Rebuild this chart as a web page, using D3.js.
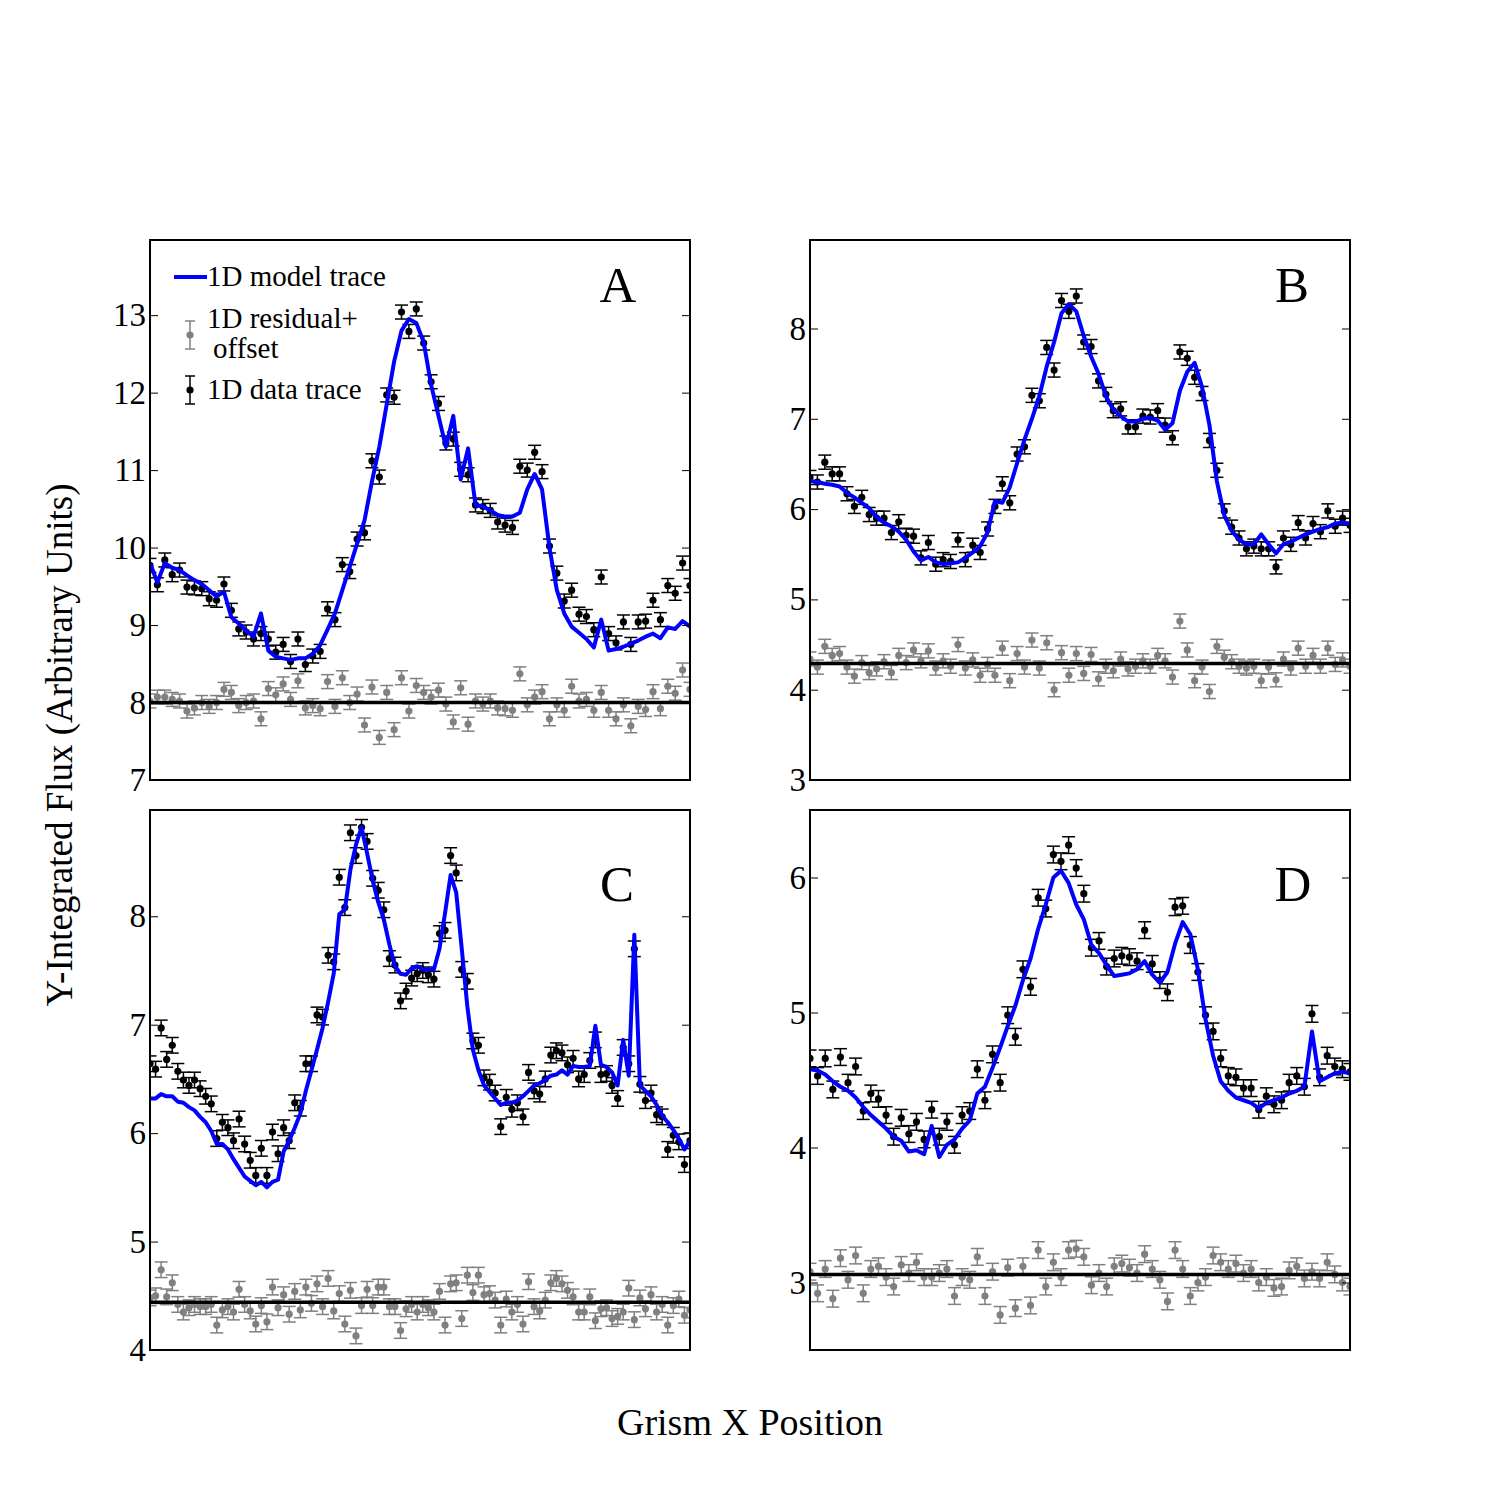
<!DOCTYPE html>
<html>
<head>
<meta charset="utf-8">
<script src="https://cdn.jsdelivr.net/npm/d3@7"></script>
<style>
  body { margin: 0; background: #fff; }
  svg text { font-family: "Liberation Serif", "DejaVu Serif", serif; fill: #000; }
</style>
</head>
<body>
<svg id="chart" width="1500" height="1500"></svg>
<script>
// ---------------------------------------------------------------------------
// Data (x = sample index along the grism row)
// ---------------------------------------------------------------------------
const panelLetters = ['A', 'B', 'C', 'D'];

const dataA = [9.77, 9.52, 9.84, 9.65, 9.71, 9.49, 9.48, 9.47, 9.34, 9.32,
  9.53, 9.19, 8.95, 8.91, 8.82, 8.89, 8.82, 8.65, 8.75, 8.53,
  8.82, 8.49, 8.60, 8.66, 9.21, 9.07, 9.78, 9.69, 10.11, 10.19,
  11.12, 10.91, 11.97, 11.94, 13.04, 12.79, 13.08, 12.64, 12.14, 11.86,
  11.35, 11.40, 11.01, 10.94, 10.55, 10.53, 10.48, 10.33, 10.29, 10.26,
  11.05, 11.00, 11.23, 10.98, 10.02, 9.67, 9.31, 9.45, 9.14, 9.11,
  8.94, 9.62, 8.89, 8.77, 9.04, 8.75, 9.04, 9.05, 9.32, 9.07,
  9.51, 9.41, 9.80, 9.51];
const modelA = [9.80, 9.55, 9.80, 9.74, 9.71, 9.64, 9.58, 9.53, 9.45, 9.37,
  9.43, 9.10, 9.02, 8.93, 8.85, 9.15, 8.67, 8.59, 8.57, 8.55,
  8.57, 8.57, 8.63, 8.74, 8.94, 9.15, 9.45, 9.75, 10.05, 10.35,
  10.85, 11.30, 11.85, 12.40, 12.80, 12.95, 12.90, 12.65, 12.10, 11.70,
  11.30, 11.70, 10.88, 11.28, 10.55, 10.53, 10.48, 10.42, 10.40, 10.40,
  10.45, 10.75, 10.95, 10.75, 10.00, 9.45, 9.15, 8.98, 8.90, 8.82,
  8.71, 9.07, 8.67, 8.69, 8.72, 8.76, 8.80, 8.85, 8.89, 8.83,
  8.97, 8.95, 9.05, 8.98];
const residA = [8.02, 8.07, 8.07, 8.04, 8.02, 7.89, 7.93, 8.00, 7.95, 8.00,
  8.17, 8.13, 7.96, 8.00, 8.02, 7.79, 8.18, 8.10, 8.24, 8.04,
  8.28, 7.93, 7.96, 7.92, 8.27, 7.95, 8.32, 8.00, 8.11, 7.71,
  8.20, 7.55, 8.13, 7.65, 8.32, 7.89, 8.22, 8.13, 8.07, 8.16,
  7.98, 7.75, 8.19, 7.72, 8.02, 7.98, 8.02, 7.93, 7.92, 7.90,
  8.37, 7.97, 8.07, 8.14, 7.79, 7.97, 7.90, 8.21, 8.02, 8.04,
  7.90, 8.13, 7.90, 7.79, 7.97, 7.70, 7.95, 7.91, 8.14, 7.92,
  8.21, 8.12, 8.42, 8.17];

const dataB = [6.35, 6.30, 6.52, 6.39, 6.39, 6.17, 6.03, 6.13, 5.94, 5.90,
  5.90, 5.74, 5.86, 5.71, 5.70, 5.46, 5.63, 5.39, 5.44, 5.42,
  5.66, 5.44, 5.60, 5.52, 5.78, 6.03, 6.28, 6.07, 6.61, 6.69,
  7.26, 7.20, 7.79, 7.54, 8.31, 8.19, 8.36, 7.85, 7.80, 7.42,
  7.27, 7.09, 7.11, 6.91, 6.91, 7.03, 7.02, 7.09, 6.93, 6.79,
  7.74, 7.67, 7.46, 7.28, 6.76, 6.43, 5.98, 5.80, 5.68, 5.56,
  5.59, 5.56, 5.56, 5.36, 5.68, 5.61, 5.85, 5.68, 5.84, 5.75,
  5.98, 5.81, 5.90, 5.82];
const modelB = [6.31, 6.30, 6.28, 6.27, 6.25, 6.18, 6.13, 6.07, 6.01, 5.91,
  5.85, 5.81, 5.75, 5.66, 5.53, 5.43, 5.47, 5.41, 5.39, 5.40,
  5.41, 5.46, 5.52, 5.59, 5.74, 6.09, 6.07, 6.24, 6.51, 6.77,
  7.00, 7.25, 7.58, 7.85, 8.17, 8.27, 8.19, 7.92, 7.69, 7.50,
  7.25, 7.10, 7.03, 6.97, 6.97, 7.00, 7.01, 6.98, 6.88, 6.95,
  7.31, 7.52, 7.62, 7.35, 6.93, 6.31, 5.93, 5.76, 5.66, 5.61,
  5.61, 5.72, 5.61, 5.51, 5.61, 5.64, 5.68, 5.72, 5.75, 5.78,
  5.80, 5.84, 5.85, 5.84];
const residB = [4.34, 4.25, 4.48, 4.38, 4.40, 4.25, 4.15, 4.30, 4.19, 4.23,
  4.31, 4.19, 4.38, 4.30, 4.44, 4.32, 4.43, 4.24, 4.32, 4.26,
  4.50, 4.24, 4.33, 4.16, 4.28, 4.16, 4.46, 4.10, 4.40, 4.25,
  4.55, 4.24, 4.52, 4.00, 4.41, 4.16, 4.40, 4.18, 4.39, 4.12,
  4.26, 4.21, 4.34, 4.23, 4.26, 4.32, 4.26, 4.38, 4.32, 4.14,
  4.76, 4.44, 4.10, 4.25, 3.98, 4.48, 4.36, 4.31, 4.26, 4.24,
  4.26, 4.10, 4.25, 4.11, 4.34, 4.24, 4.46, 4.26, 4.38, 4.26,
  4.46, 4.28, 4.33, 4.26];

const dataC = [6.64, 6.59, 6.97, 6.68, 6.81, 6.57, 6.49, 6.44, 6.49, 6.41,
  6.34, 6.27, 5.95, 6.10, 6.05, 5.93, 6.13, 5.90, 5.75, 5.61,
  5.86, 5.61, 6.01, 5.81, 6.05, 5.93, 6.28, 6.23, 6.64, 6.64,
  7.09, 7.07, 7.64, 7.58, 8.36, 8.08, 8.77, 8.56, 8.82, 8.69,
  8.35, 8.24, 8.06, 7.61, 7.55, 7.22, 7.31, 7.43, 7.47, 7.50,
  7.46, 7.42, 7.84, 7.87, 8.56, 8.40, 7.51, 7.40, 6.85, 6.81,
  6.51, 6.47, 6.37, 6.06, 6.33, 6.22, 6.28, 6.15, 6.56, 6.39,
  6.36, 6.50, 6.72, 6.76, 6.74, 6.63, 6.69, 6.50, 6.54, 6.67,
  6.86, 6.54, 6.55, 6.44, 6.32, 6.79, 6.64, 7.70, 6.45, 6.30,
  6.37, 6.17, 6.15, 5.85, 5.98, 5.92, 5.71, 5.93];
const modelC = [6.32, 6.32, 6.36, 6.34, 6.34, 6.29, 6.28, 6.24, 6.21, 6.15,
  6.10, 6.02, 5.90, 5.90, 5.85, 5.76, 5.68, 5.60, 5.56, 5.52,
  5.55, 5.50, 5.55, 5.57, 5.83, 5.93, 6.05, 6.18, 6.39, 6.58,
  6.77, 6.97, 7.21, 7.47, 8.02, 8.06, 8.43, 8.66, 8.82, 8.58,
  8.33, 8.13, 7.97, 7.74, 7.54, 7.47, 7.46, 7.52, 7.54, 7.51,
  7.51, 7.51, 7.70, 8.03, 8.38, 8.22, 7.70, 7.17, 6.77, 6.58,
  6.44, 6.38, 6.32, 6.26, 6.28, 6.28, 6.30, 6.34, 6.39, 6.44,
  6.46, 6.49, 6.53, 6.54, 6.58, 6.54, 6.62, 6.61, 6.61, 6.62,
  6.99, 6.63, 6.61, 6.56, 6.44, 6.86, 6.53, 7.83, 6.44, 6.39,
  6.34, 6.26, 6.16, 6.10, 6.03, 5.95, 5.85, 5.93];
const residC = [4.48, 4.50, 4.74, 4.49, 4.62, 4.42, 4.35, 4.39, 4.42, 4.40,
  4.40, 4.42, 4.23, 4.37, 4.40, 4.35, 4.56, 4.42, 4.36, 4.24,
  4.41, 4.26, 4.58, 4.39, 4.51, 4.33, 4.54, 4.37, 4.58, 4.43,
  4.61, 4.40, 4.66, 4.36, 4.52, 4.24, 4.55, 4.13, 4.41, 4.56,
  4.41, 4.58, 4.58, 4.40, 4.40, 4.18, 4.38, 4.42, 4.35, 4.42,
  4.39, 4.35, 4.54, 4.23, 4.61, 4.62, 4.29, 4.69, 4.53, 4.69,
  4.51, 4.52, 4.46, 4.23, 4.47, 4.35, 4.42, 4.24, 4.63, 4.40,
  4.36, 4.46, 4.62, 4.66, 4.61, 4.55, 4.49, 4.35, 4.35, 4.49,
  4.27, 4.38, 4.39, 4.29, 4.31, 4.35, 4.57, 4.28, 4.48, 4.38,
  4.51, 4.35, 4.42, 4.23, 4.41, 4.47, 4.32, 4.37];

const dataD = [4.66, 4.53, 4.66, 4.43, 4.67, 4.48, 4.60, 4.27, 4.40, 4.36,
  4.24, 4.08, 4.22, 4.10, 4.19, 4.06, 4.28, 4.08, 4.19, 4.02,
  4.24, 4.27, 4.58, 4.35, 4.69, 4.48, 4.98, 4.82, 5.32, 5.19,
  5.85, 5.77, 6.17, 6.12, 6.24, 6.07, 5.88, 5.48, 5.53, 5.34,
  5.40, 5.42, 5.41, 5.38, 5.61, 5.36, 5.24, 5.15, 5.78, 5.79,
  5.50, 5.30, 4.98, 4.86, 4.66, 4.53, 4.52, 4.44, 4.44, 4.28,
  4.38, 4.32, 4.35, 4.48, 4.53, 4.45, 4.99, 4.52, 4.68, 4.60,
  4.58, 4.56];
const modelD = [4.58, 4.57, 4.54, 4.49, 4.45, 4.42, 4.37, 4.30, 4.24, 4.19,
  4.14, 4.08, 4.05, 3.97, 3.98, 3.95, 4.16, 3.93, 4.02, 4.06,
  4.14, 4.20, 4.40, 4.45, 4.59, 4.74, 4.90, 5.05, 5.24, 5.40,
  5.62, 5.80, 6.00, 6.05, 5.96, 5.80, 5.69, 5.50, 5.44, 5.35,
  5.27, 5.28, 5.29, 5.32, 5.38, 5.28, 5.22, 5.30, 5.51, 5.67,
  5.58, 5.32, 4.95, 4.68, 4.49, 4.42, 4.37, 4.35, 4.33, 4.29,
  4.33, 4.35, 4.37, 4.40, 4.42, 4.45, 4.86, 4.49, 4.52, 4.55,
  4.56, 4.55];
const residD = [3.08, 2.92, 3.10, 2.88, 3.18, 3.02, 3.20, 2.92, 3.10, 3.12,
  3.04, 2.97, 3.13, 3.07, 3.15, 3.04, 3.04, 3.07, 3.10, 2.90,
  3.04, 3.02, 3.19, 2.90, 3.08, 2.76, 3.11, 2.81, 3.12, 2.83,
  3.24, 2.97, 3.15, 3.04, 3.24, 3.25, 3.19, 2.98, 3.07, 2.97,
  3.12, 3.14, 3.11, 3.07, 3.21, 3.10, 3.02, 2.86, 3.24, 3.10,
  2.90, 3.00, 3.04, 3.20, 3.15, 3.10, 3.14, 3.07, 3.10, 3.00,
  3.04, 2.96, 2.97, 3.09, 3.12, 3.03, 3.08, 3.03, 3.15, 3.06,
  3.00, 2.97];

// residual offsets (the black zero line of each panel) and 1-sigma errors
const residOffsets = [8.0, 4.29, 4.44, 3.06];
const dataErrors   = [0.09, 0.078, 0.072, 0.062];

// y-axis tick labels per panel
const ticksA = [7, 8, 9, 10, 11, 12, 13];
const ticksB = [3, 4, 5, 6, 7, 8];
const ticksC = [4, 5, 6, 7, 8];
const ticksD = [3, 4, 5, 6];

// ---------------------------------------------------------------------------
// Layout
// ---------------------------------------------------------------------------
const PW = 540, PH = 540;
const BLUE = '#0000ff', GREY = '#808080';

const panels = [
  { letter: panelLetters[0], x0: 150, y0: 240, data: dataA, model: modelA, resid: residA, ticks: ticksA, ydom: [7, 13.97], lx: 468, ly: 62 },
  { letter: panelLetters[1], x0: 810, y0: 240, data: dataB, model: modelB, resid: residB, ticks: ticksB, ydom: [3, 8.98],  lx: 482, ly: 62 },
  { letter: panelLetters[2], x0: 150, y0: 810, data: dataC, model: modelC, resid: residC, ticks: ticksC, ydom: [4, 8.98],  lx: 467, ly: 91 },
  { letter: panelLetters[3], x0: 810, y0: 810, data: dataD, model: modelD, resid: residD, ticks: ticksD, ydom: [2.5, 6.5], lx: 483, ly: 91 },
];
panels.forEach((p, i) => { p.offset = residOffsets[i]; p.err = dataErrors[i]; });

const svg = d3.select('#chart');
svg.append('rect').attr('width', 1500).attr('height', 1500).attr('fill', '#fff');

// errorbar marker: vertical bar + two caps + dot
function errorbars(g, pts, x, y, err, color) {
  const cap = 6.5;
  const eb = g.append('g').selectAll('g').data(pts).join('g');
  eb.append('line')
    .attr('x1', d => x(d.i)).attr('x2', d => x(d.i))
    .attr('y1', d => y(d.v - err)).attr('y2', d => y(d.v + err))
    .attr('stroke', color).attr('stroke-width', 1.5);
  [-1, 1].forEach(s => {
    eb.append('line')
      .attr('x1', d => x(d.i) - cap).attr('x2', d => x(d.i) + cap)
      .attr('y1', d => y(d.v + s * err)).attr('y2', d => y(d.v + s * err))
      .attr('stroke', color).attr('stroke-width', 1.5);
  });
  eb.append('circle')
    .attr('cx', d => x(d.i)).attr('cy', d => y(d.v))
    .attr('r', 3.6).attr('fill', color);
}

function drawPanel(p, idx) {
  const g = svg.append('g').attr('transform', `translate(${p.x0},${p.y0})`);
  const n = p.data.length;

  const x = d3.scaleLinear().domain([0, n - 1]).range([0, PW]);
  const y = d3.scaleLinear().domain(p.ydom).range([PH, 0]);

  const clipId = `clip-${idx}`;
  g.append('clipPath').attr('id', clipId)
    .append('rect').attr('width', PW).attr('height', PH);

  const plot = g.append('g').attr('clip-path', `url(#${clipId})`);

  const toPts = arr => arr.map((v, i) => ({ i, v }));

  // residuals + offset (grey), then the zero line
  errorbars(plot, toPts(p.resid), x, y, p.err, GREY);
  plot.append('line')
    .attr('x1', 0).attr('x2', PW)
    .attr('y1', y(p.offset)).attr('y2', y(p.offset))
    .attr('stroke', '#000').attr('stroke-width', 3.5);

  // data trace
  errorbars(plot, toPts(p.data), x, y, p.err, '#000');

  // model trace
  const line = d3.line().x(d => x(d.i)).y(d => y(d.v));
  plot.append('path')
    .datum(toPts(p.model))
    .attr('d', line)
    .attr('fill', 'none')
    .attr('stroke', BLUE)
    .attr('stroke-width', 4)
    .attr('stroke-linejoin', 'round');

  // axes: inward ticks on both sides, labels on the left only
  const left = d3.axisLeft(y).tickValues(p.ticks).tickFormat(d3.format('d'))
    .tickSizeInner(-8).tickSizeOuter(0).tickPadding(4);
  const gl = g.append('g').call(left);
  gl.select('.domain').remove();
  gl.selectAll('line').attr('stroke', '#000').attr('stroke-width', 1);
  gl.selectAll('text').style('font-size', '33px')
    .style('font-family', '"Liberation Serif", serif');

  const right = d3.axisRight(y).tickValues(p.ticks).tickFormat('')
    .tickSizeInner(-8).tickSizeOuter(0);
  const gr = g.append('g').attr('transform', `translate(${PW},0)`).call(right);
  gr.select('.domain').remove();
  gr.selectAll('line').attr('stroke', '#000').attr('stroke-width', 1);

  // frame
  g.append('rect')
    .attr('width', PW).attr('height', PH)
    .attr('fill', 'none').attr('stroke', '#000').attr('stroke-width', 2);

  // panel letter
  g.append('text')
    .attr('x', p.lx).attr('y', p.ly)
    .attr('text-anchor', 'middle')
    .style('font-size', '51px')
    .text(p.letter);

  return g;
}

const gA = drawPanel(panels[0], 0);
panels.slice(1).forEach((p, i) => drawPanel(p, i + 1));

// ---- legend (inside panel A) ----
const leg = gA.append('g');
leg.append('line')
  .attr('x1', 24).attr('x2', 57).attr('y1', 37).attr('y2', 37)
  .attr('stroke', BLUE).attr('stroke-width', 4);
leg.append('text').attr('x', 57).attr('y', 46).style('font-size', '29px').text('1D model trace');

function legendMarker(cx, cy, half, color) {
  leg.append('line').attr('x1', cx).attr('x2', cx).attr('y1', cy - half).attr('y2', cy + half)
    .attr('stroke', color).attr('stroke-width', 1.5);
  [-1, 1].forEach(s => leg.append('line')
    .attr('x1', cx - 5).attr('x2', cx + 5).attr('y1', cy + s * half).attr('y2', cy + s * half)
    .attr('stroke', color).attr('stroke-width', 1.5));
  leg.append('circle').attr('cx', cx).attr('cy', cy).attr('r', 3.6).attr('fill', color);
}
legendMarker(40, 95, 14, GREY);
leg.append('text').attr('x', 57).attr('y', 88).style('font-size', '29px').text('1D residual+');
leg.append('text').attr('x', 63).attr('y', 118).style('font-size', '29px').text('offset');
legendMarker(40, 150, 14, '#000');
leg.append('text').attr('x', 57).attr('y', 159).style('font-size', '29px').text('1D data trace');

// ---- shared axis titles ----
svg.append('text')
  .attr('transform', 'translate(72,745) rotate(-90)')
  .attr('text-anchor', 'middle')
  .style('font-size', '37px')
  .text('Y-Integrated Flux (Arbitrary Units)');

svg.append('text')
  .attr('x', 750).attr('y', 1435)
  .attr('text-anchor', 'middle')
  .style('font-size', '38px')
  .text('Grism X Position');
</script>
</body>
</html>
